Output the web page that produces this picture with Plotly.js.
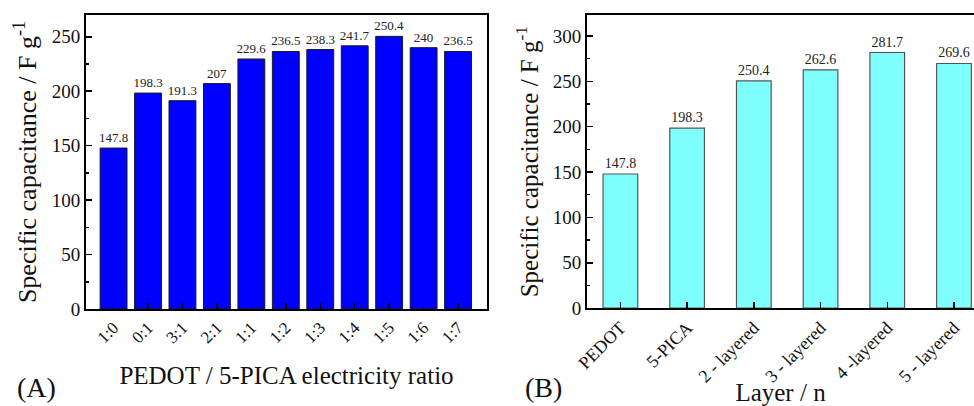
<!DOCTYPE html>
<html>
<head>
<meta charset="utf-8">
<script src="https://cdn.plot.ly/plotly-3.0.1.min.js"></script>
<style>html,body{margin:0;padding:0;background:#fff;}#chart{width:974px;height:406px;}</style>
</head>
<body>
<div id="chart"></div>
<script>
// Panel A data
const ratioCategories = ["1:0","0:1","3:1","2:1","1:1","1:2","1:3","1:4","1:5","1:6","1:7"];
const ratioValues = [147.8, 198.3, 191.3, 207, 229.6, 236.5, 238.3, 241.7, 250.4, 240, 236.5];
const ratioLabels = ["147.8","198.3","191.3","207","229.6","236.5","238.3","241.7","250.4","240","236.5"];
// Panel B data
const layerCategories = ["PEDOT","5-PICA","2 - layered","3 - layered","4 -layered","5 - layered"];
const layerValues = [147.8, 198.3, 250.4, 262.6, 281.7, 269.6];
const layerLabels = ["147.8","198.3","250.4","262.6","281.7","269.6"];

const FONT = "'Liberation Serif', 'Times New Roman', serif";

const traceA = {
  type: "bar", x: ratioCategories, y: ratioValues, xaxis: "x", yaxis: "y",
  width: 0.78,
  marker: {color: "#0000FF", line: {color: "#1a1a1a", width: 1}},
  text: ratioLabels, textposition: "outside", cliponaxis: false, constraintext: "none",
  textfont: {family: FONT, size: 13, color: "#222"},
  hoverinfo: "x+y"
};
const traceB = {
  type: "bar", x: layerCategories, y: layerValues, xaxis: "x2", yaxis: "y2",
  width: 0.52,
  marker: {color: "#80FFFF", line: {color: "#555", width: 1.2}},
  text: layerLabels, textposition: "outside", cliponaxis: false, constraintext: "none",
  textfont: {family: FONT, size: 14, color: "#222"},
  hoverinfo: "x+y"
};

const yTitle = "Specific capacitance / F g<sup>-1</sup>";
const axisCommon = {
  showline: true, linecolor: "#000", linewidth: 2, mirror: true,
  ticks: "inside", ticklen: 6, tickwidth: 1.5, tickcolor: "#000",
  showgrid: false, zeroline: false,
  tickfont: {family: FONT, size: 19, color: "#111"}
};

const layout = {
  width: 974, height: 406,
  margin: {l: 0, r: 0, t: 0, b: 0},
  paper_bgcolor: "#fff", plot_bgcolor: "#fff",
  showlegend: false,
  font: {family: FONT, color: "#111"},
  xaxis: Object.assign({}, axisCommon, {
    domain: [0.0883, 0.5], anchor: "y", type: "category",
    range: [-0.8, 10.84], tickangle: -45,
    tickfont: {family: FONT, size: 17, color: "#111"},
    title: {text: "PEDOT / 5-PICA electricity ratio", font: {family: FONT, size: 25, color: "#111"}, standoff: 20}
  }),
  yaxis: Object.assign({}, axisCommon, {
    domain: [0.239, 0.963], anchor: "x",
    range: [0, 270], dtick: 50, tick0: 0,
    minor: {dtick: 25, ticks: "inside", ticklen: 3, tickcolor: "#000"},
    title: {text: yTitle, font: {family: FONT, size: 26, color: "#111"}, standoff: 8}
  }),
  xaxis2: Object.assign({}, axisCommon, {
    domain: [0.6027, 1.0], anchor: "y2", type: "category",
    range: [-0.5, 5.3], tickangle: -45,
    tickfont: {family: FONT, size: 18, color: "#111"},
    title: {text: "Layer / n", font: {family: FONT, size: 25, color: "#111"}, standoff: 0}
  }),
  yaxis2: Object.assign({}, axisCommon, {
    domain: [0.241, 0.963], anchor: "x2", mirror: false,
    range: [0, 323], dtick: 50, tick0: 0,
    minor: {dtick: 25, ticks: "inside", ticklen: 3, tickcolor: "#000"},
    title: {text: yTitle, font: {family: FONT, size: 25, color: "#111"}, standoff: 7}
  }),
  annotations: [
    {text: "(A)", xref: "paper", yref: "paper", x: 36/974, y: 1 - 387/406, xanchor: "center", yanchor: "middle", showarrow: false, font: {family: FONT, size: 28, color: "#111"}},
    {text: "(B)", xref: "paper", yref: "paper", x: 543/974, y: 1 - 387/406, xanchor: "center", yanchor: "middle", showarrow: false, font: {family: FONT, size: 28, color: "#111"}}
  ]
};

Plotly.newPlot("chart", [traceA, traceB], layout, {displayModeBar: false, staticPlot: true});
</script>
</body>
</html>
